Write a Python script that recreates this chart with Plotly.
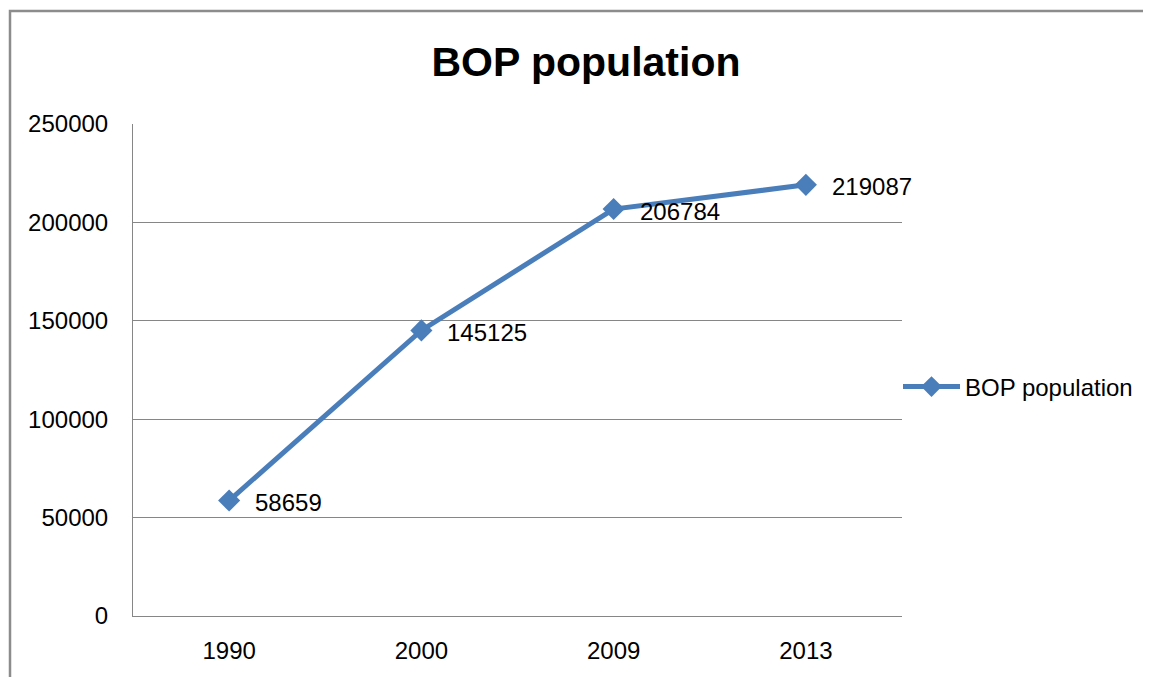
import plotly.graph_objects as go

years = ["1990", "2000", "2009", "2013"]
population = [58659, 145125, 206784, 219087]
series_name = "BOP population"
title_text = "BOP population"
y_ticks = [0, 50000, 100000, 150000, 200000, 250000]

# page has an 8px body margin; figure coordinates = page coordinates - 8
OFF = 8
W, H = 1151 - OFF, 677 - OFF
L, T = 133 - OFF, 124 - OFF
R = W - (902 - OFF)
B = H - (616 - OFF)
pw, ph = W - L - R, H - T - B

blue = "#4A7EBB"
grey = "#868686"
font_family = "Liberation Sans, Arial, sans-serif"

fig = go.Figure()
fig.add_trace(go.Scatter(
    x=years, y=population, mode="lines+markers", name=series_name,
    line=dict(color=blue, width=5),
    marker=dict(symbol="diamond", size=17, color=blue),
))

for i, y in enumerate(population):
    fig.add_annotation(x=i, y=y, text=str(y), showarrow=False,
                       xanchor="left", yanchor="middle", xshift=24, yshift=-2,
                       font=dict(family=font_family, size=24, color="#000000"))

# outer chart border (extends past right/bottom edges)
fig.add_shape(type="rect", xref="paper", yref="paper",
              x0=(10 - OFF - L) / pw, x1=(W + 40 - L) / pw,
              y0=-(B + 40) / ph, y1=(H - B - (11 - OFF)) / ph,
              line=dict(color="#8C8C8C", width=2.5), fillcolor="rgba(0,0,0,0)", layer="above")

fig.update_layout(
    width=W, height=H,
    margin=dict(l=L, r=R, t=T, b=B, autoexpand=False),
    paper_bgcolor="white", plot_bgcolor="white",
    font=dict(family=font_family, size=24, color="#000000"),
    title=dict(text="<b>" + title_text + "</b>", x=(586 - OFF) / W, xanchor="center",
               y=1 - (62 - OFF) / H, yanchor="middle", xref="container", yref="container",
               font=dict(family=font_family, size=41, color="#000000")),
    showlegend=True,
    legend=dict(x=(898 - OFF - L) / pw, y=(H - B - (387 - OFF)) / ph, xanchor="left", yanchor="middle",
                bgcolor="rgba(0,0,0,0)", borderwidth=0, itemwidth=57,
                font=dict(family=font_family, size=24, color="#000000")),
    xaxis=dict(type="category", range=[-0.5, 3.5], showgrid=False,
               showline=True, linecolor=grey, linewidth=1, ticks="",
               ticklabelstandoff=13, zeroline=False,
               tickfont=dict(family=font_family, size=24, color="#000000")),
    yaxis=dict(range=[0, 250000], tickvals=y_ticks, ticktext=[str(v) for v in y_ticks],
               showgrid=True, gridcolor=grey, gridwidth=1,
               showline=True, linecolor=grey, linewidth=1, ticks="",
               ticklabelstandoff=19, zeroline=False,
               tickfont=dict(family=font_family, size=24, color="#000000")),
)

fig.write_html("out.html")
